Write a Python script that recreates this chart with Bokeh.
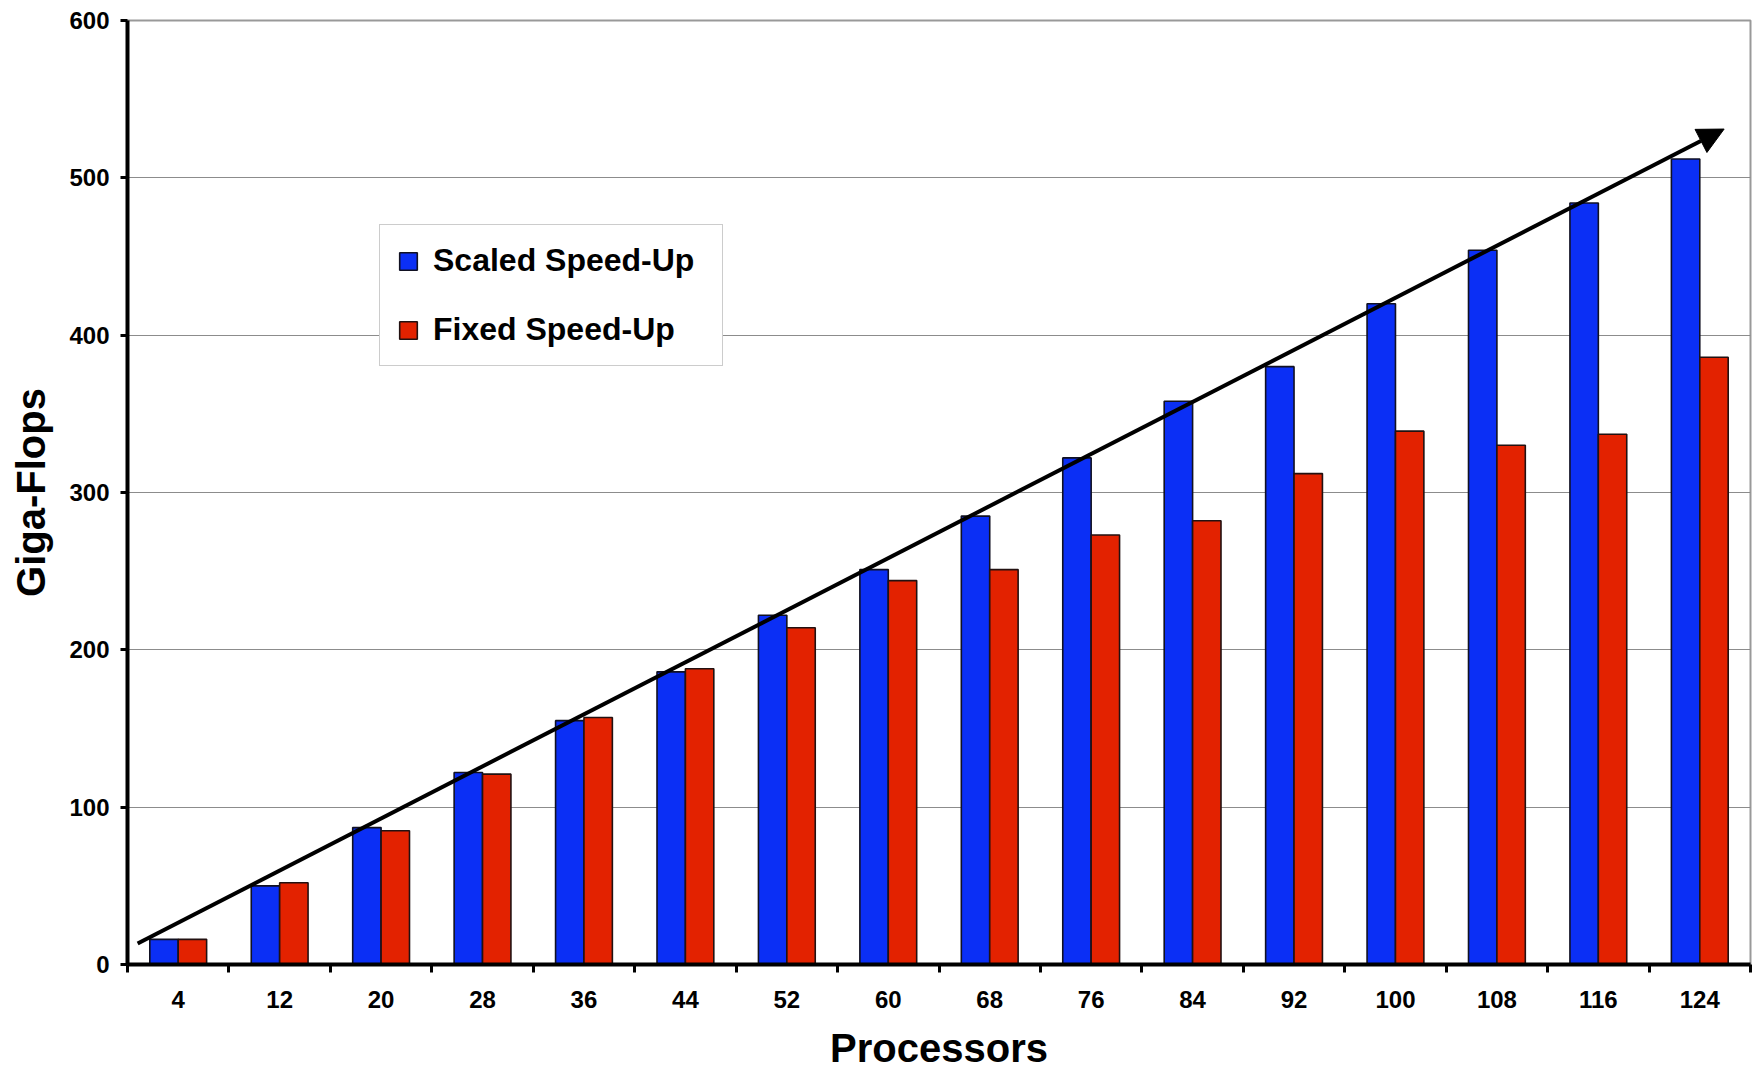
from bokeh.plotting import figure
from bokeh.models import Range1d, FixedTicker, Legend, LegendItem, Arrow, NormalHead, ColumnDataSource
from bokeh.embed import file_html
from bokeh.resources import INLINE

processors = [4, 12, 20, 28, 36, 44, 52, 60, 68, 76, 84, 92, 100, 108, 116, 124]
scaled_speedup = [16, 50, 87, 122, 155, 186, 222, 251, 285, 322, 358, 380, 420, 454, 484, 512]
fixed_speedup = [16, 52, 85, 121, 157, 188, 214, 244, 251, 273, 282, 312, 339, 330, 337, 386]
y_ticks = [0, 100, 200, 300, 400, 500, 600]
trend_x = [0.10, 15.74]   # in category-slot units
trend_y = [13.4, 531]

n = len(processors)
centers = [i + 0.5 for i in range(n)]
bar_w = 0.28

src = ColumnDataSource(dict(
    xb=[c - bar_w / 2 for c in centers],
    xr=[c + bar_w / 2 for c in centers],
    scaled=scaled_speedup,
    fixed=fixed_speedup,
))

FONT = "Liberation Sans"

p = figure(width=1753, height=1073, output_backend="svg", toolbar_location=None,
           x_range=Range1d(0, n), y_range=Range1d(0, 600),
           min_border_left=127, min_border_right=3, min_border_top=20, min_border_bottom=109)
p.background_fill_color = "white"
p.border_fill_color = "white"
p.outline_line_color = "#999999"
p.outline_line_width = 2

rb = p.vbar(x="xb", top="scaled", width=bar_w, source=src, fill_color="#0b2ff5",
            line_color="#111122", line_width=1.6)
rr = p.vbar(x="xr", top="fixed", width=bar_w, source=src, fill_color="#e32200",
            line_color="#221111", line_width=1.6)

arrow = Arrow(end=NormalHead(size=26, fill_color="black", line_color="black"),
              x_start=trend_x[0], y_start=trend_y[0], x_end=trend_x[1], y_end=trend_y[1],
              line_width=4, line_color="black")
p.add_layout(arrow)

# grid
p.xgrid.grid_line_color = None
p.ygrid.grid_line_color = "#8c8c8c"
p.ygrid.grid_line_width = 1
p.ygrid.ticker = FixedTicker(ticks=y_ticks)

# x axis
xa = p.xaxis[0]
xa.ticker = FixedTicker(ticks=centers, minor_ticks=list(range(n + 1)))
xa.major_label_overrides = {c: str(v) for c, v in zip(centers, processors)}
xa.major_tick_out = 0
xa.major_tick_in = 0
xa.minor_tick_out = 8
xa.minor_tick_in = 0
xa.minor_tick_line_color = "black"
xa.minor_tick_line_width = 3
xa.axis_line_width = 4
xa.axis_line_color = "black"
xa.major_label_text_font = FONT
xa.major_label_text_font_style = "bold"
xa.major_label_text_font_size = "24px"
xa.major_label_text_color = "black"
xa.major_label_standoff = 18
xa.axis_label = "Processors"
xa.axis_label_text_font = FONT
xa.axis_label_text_font_style = "bold"
xa.axis_label_text_font_size = "40px"
xa.axis_label_text_color = "black"
xa.axis_label_standoff = 15

# y axis
ya = p.yaxis[0]
ya.ticker = FixedTicker(ticks=y_ticks)
ya.major_tick_out = 7
ya.major_tick_in = 0
ya.major_tick_line_width = 3
ya.major_tick_line_color = "black"
ya.minor_tick_line_color = None
ya.axis_line_width = 4
ya.axis_line_color = "black"
ya.major_label_text_font = FONT
ya.major_label_text_font_style = "bold"
ya.major_label_text_font_size = "24px"
ya.major_label_text_color = "black"
ya.major_label_standoff = 11
ya.axis_label = "Giga-Flops"
ya.axis_label_text_font = FONT
ya.axis_label_text_font_style = "bold"
ya.axis_label_text_font_size = "40px"
ya.axis_label_text_color = "black"
ya.axis_label_standoff = 13

legend = Legend(items=[LegendItem(label="Scaled Speed-Up", renderers=[rb]),
                       LegendItem(label="Fixed Speed-Up", renderers=[rr])],
                location=(252, 598))
legend.label_text_font = FONT
legend.label_text_font_style = "bold"
legend.label_text_font_size = "32px"
legend.label_text_color = "black"
legend.glyph_width = 22
legend.glyph_height = 22
legend.label_standoff = 14
legend.padding = 17
legend.spacing = 32
legend.label_height = 36
legend.label_width = 272
legend.margin = 0
legend.border_line_color = "#999999"
legend.border_line_width = 1.5
legend.background_fill_color = "white"
legend.background_fill_alpha = 1
p.add_layout(legend)

open("out.html", "w").write(file_html(p, INLINE))
